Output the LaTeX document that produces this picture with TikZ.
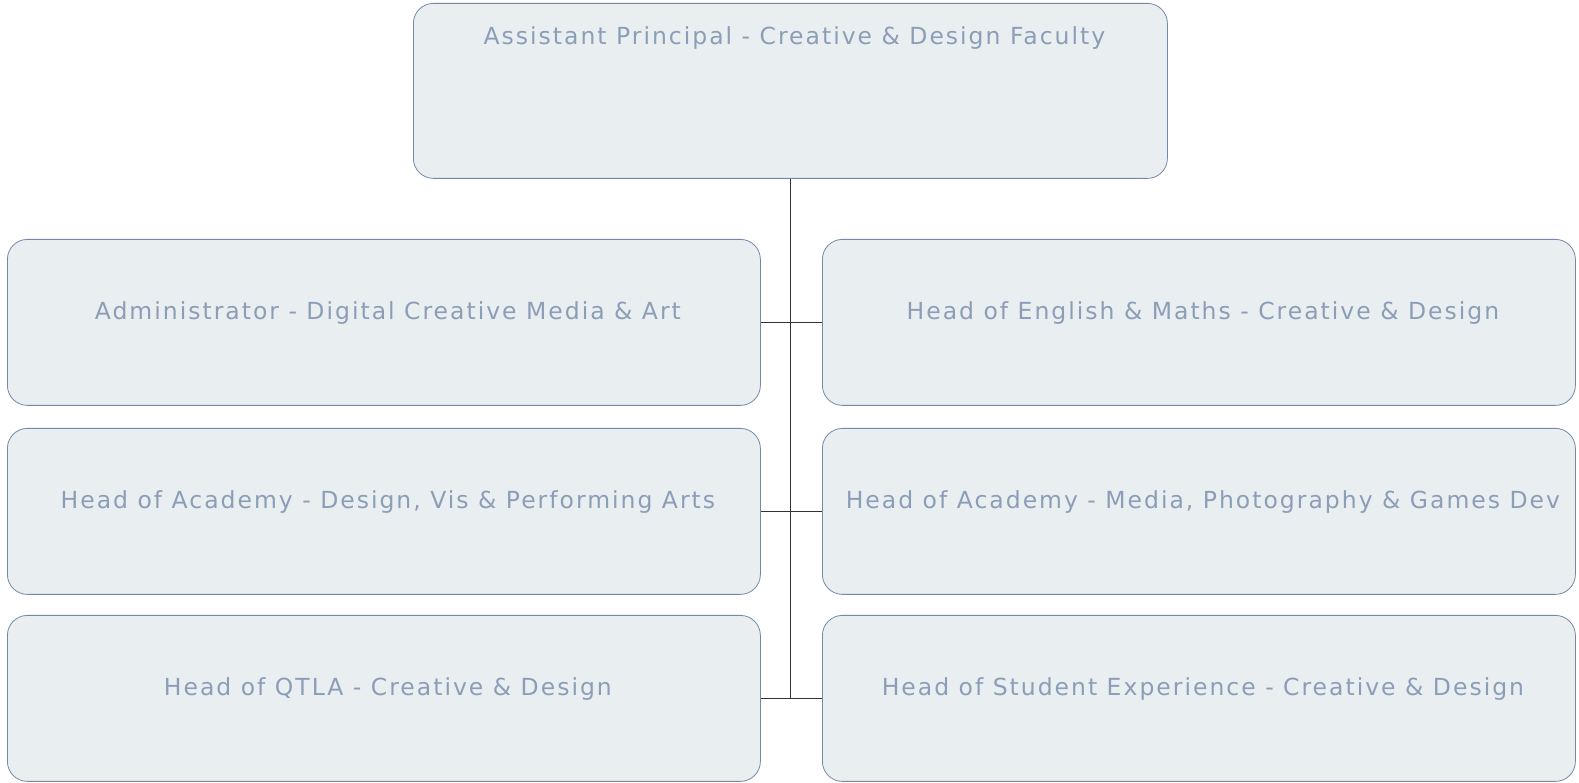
\documentclass[tikz,border=0pt]{standalone}
\usepackage{fontspec}
\setmainfont{DejaVu Sans}
\newfontfamily\lblfont[LetterSpace=8.5]{DejaVu Sans}
\definecolor{boxfill}{HTML}{E9EEF1}
\definecolor{boxline}{HTML}{7488A8}
\definecolor{lbltext}{HTML}{8C9EB7}
\definecolor{conn}{HTML}{333333}
\begin{document}
\begin{tikzpicture}[x=1pt,y=1pt,
  box/.style={draw=boxline, fill=boxfill, rounded corners=20pt, line width=0.8pt,
    minimum width=753pt, minimum height=166pt, anchor=north west, inner sep=0pt},
  lbl/.style={text=lbltext, font=\lblfont\fontsize{23.5}{27}\selectfont, inner sep=0pt},
  link/.style={draw=conn, line width=1pt}]
\useasboundingbox (0,0) rectangle (1579,783);
\node[box, minimum width=754pt, minimum height=175pt] (top) at (413,780) {};
\node[box] (l1) at (7,544) {};
\node[box] (l2) at (7,355) {};
\node[box] (l3) at (7,168) {};
\node[box] (r1) at (822,544) {};
\node[box] (r2) at (822,355) {};
\node[box] (r3) at (822,168) {};
\node[lbl] (ttop) at ([xshift=4pt,yshift=-35pt]top.north) {Assistant Principal - Creative \& Design Faculty};
\node[lbl] (tl1) at ([xshift=4pt,yshift=9pt]l1.center) {Administrator - Digital Creative Media \& Art};
\node[lbl] (tl2) at ([xshift=4pt,yshift=9pt]l2.center) {Head of Academy - Design, Vis \& Performing Arts};
\node[lbl] (tl3) at ([xshift=4pt,yshift=9pt]l3.center) {Head of QTLA - Creative \& Design};
\node[lbl] (tr1) at ([xshift=4pt,yshift=9pt]r1.center) {Head of English \& Maths - Creative \& Design};
\node[lbl] (tr2) at ([xshift=4pt,yshift=9pt]r2.center) {Head of Academy - Media, Photography \& Games Dev};
\node[lbl] (tr3) at ([xshift=4pt,yshift=9pt]r3.center) {Head of Student Experience - Creative \& Design};
\draw[link] (top.south) -- (top.south |- l3.east);
\draw[link] (l1.east) -- (r1.west);
\draw[link] (l2.east) -- (r2.west);
\draw[link] (l3.east) -- (r3.west);
\end{tikzpicture}
\end{document}
